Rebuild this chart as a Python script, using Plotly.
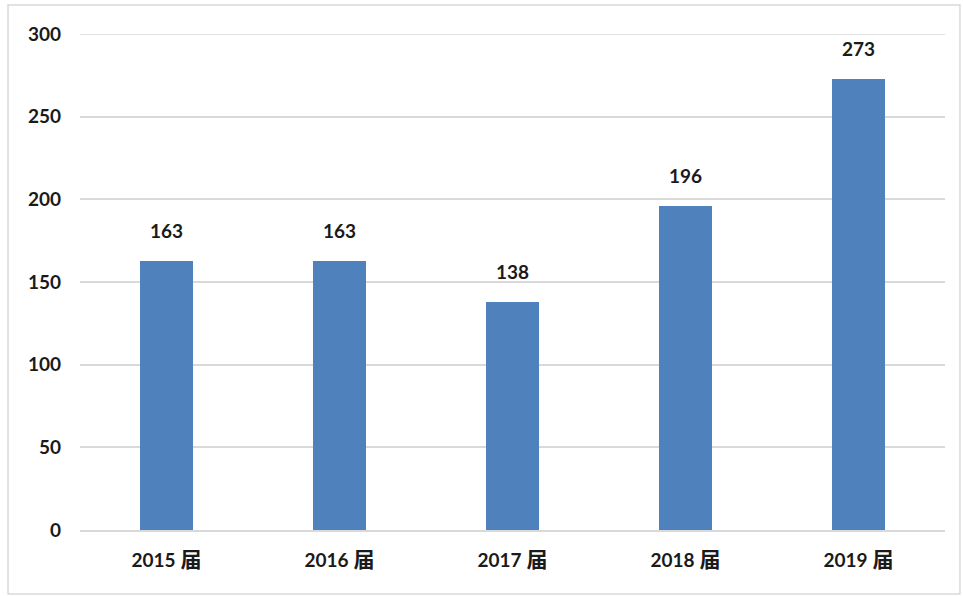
import plotly.graph_objects as go

# Graduates per cohort
cohorts = ["2015届", "2016届", "2017届", "2018届", "2019届"]
counts = [163, 163, 138, 196, 273]
y_ticks = [0, 50, 100, 150, 200, 250, 300]

BAR_COLOR = "#4F81BD"
GRID_COLOR = "#D9D9D9"
TEXT_COLOR = "#1a1a1a"
FONT = "Lato, 'Noto Sans CJK SC', sans-serif"
FONT_SIZE = 19

fig = go.Figure(
    go.Bar(
        x=cohorts,
        y=counts,
        marker=dict(color=BAR_COLOR, line=dict(width=0)),
        width=0.31,
        hoverinfo="x+y",
    )
)

# value labels above each bar
for c, v in zip(cohorts, counts):
    fig.add_annotation(
        x=c, y=v, text=f"<b>{v}</b>", showarrow=False,
        yanchor="bottom", yshift=17,
        font=dict(family=FONT, size=FONT_SIZE, color=TEXT_COLOR),
    )

# top gridline sits on the edge of the range, so draw it explicitly
fig.add_shape(
    type="line", xref="paper", yref="y", x0=0, x1=1,
    y0=y_ticks[-1], y1=y_ticks[-1],
    line=dict(color=GRID_COLOR, width=1.5), layer="below",
)

# light frame around the whole chart
fig.add_shape(
    type="rect", xref="paper", yref="paper",
    x0=-0.0832, x1=1.0173, y0=-0.129, y1=1.0585,
    line=dict(color=GRID_COLOR, width=1.5), fillcolor="rgba(0,0,0,0)",
    layer="below",
)

tick_text = [
    f"<b>{c[:-1]}</b> <b><span style='font-size:21px'>{c[-1]}</span></b>"
    for c in cohorts
]

fig.update_layout(
    width=963, height=596,
    margin=dict(l=80, r=18, t=34, b=66),
    paper_bgcolor="white", plot_bgcolor="white",
    showlegend=False,
    bargap=0,
    xaxis=dict(
        showgrid=False, showline=True, linecolor=GRID_COLOR, linewidth=1.5,
        ticks="", tickfont=dict(family=FONT, size=FONT_SIZE, color=TEXT_COLOR),
        tickvals=cohorts, ticktext=tick_text,
        ticklabelstandoff=12,
    ),
    yaxis=dict(
        range=[0, 300], tickvals=y_ticks,
        ticktext=[f"<b>{t}</b>" for t in y_ticks],
        showgrid=True, gridcolor=GRID_COLOR,
        gridwidth=1.5, zeroline=False, showline=False, ticks="",
        tickfont=dict(family=FONT, size=FONT_SIZE, color=TEXT_COLOR),
        ticklabelstandoff=18,
    ),
)

fig.write_html("out.html")
